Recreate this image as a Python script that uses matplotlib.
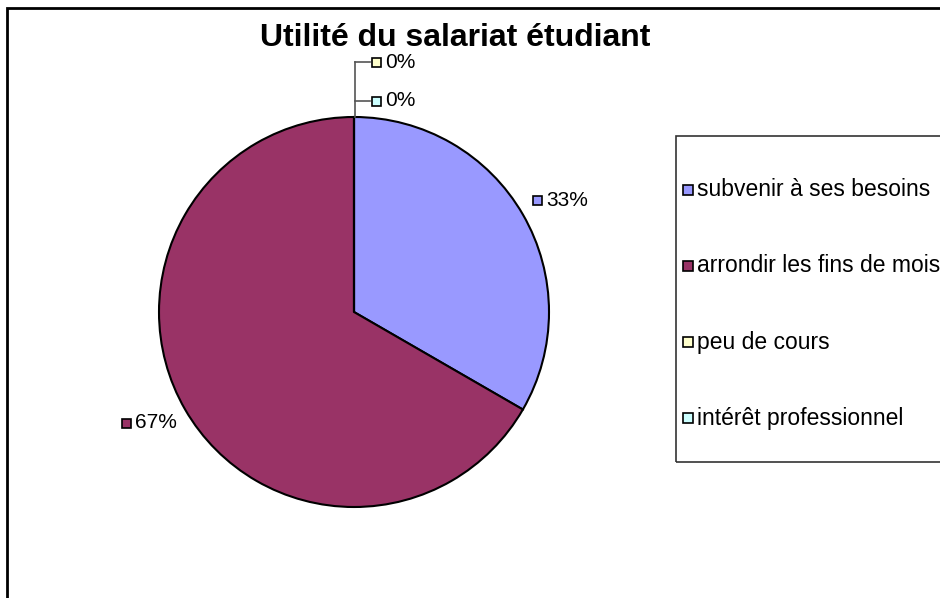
import matplotlib.pyplot as plt
from matplotlib.patches import Rectangle

# data
categories = ["subvenir à ses besoins", "arrondir les fins de mois",
              "peu de cours", "intérêt professionnel"]
values = [1, 2, 0, 0]
colors = ["#9999FF", "#993366", "#FFFFCC", "#CCFFFF"]

total = sum(values)
pct_labels = ["%d%%" % round(100 * v / total) for v in values]

W, H = 940, 598
fig = plt.figure(figsize=(9.4, 5.98), dpi=100)
ax = fig.add_axes([0, 0, 1, 1])

plt.rcParams['font.family'] = ['Liberation Sans', 'DejaVu Sans']

# outer frame (cut off on right and bottom)
ax.add_patch(Rectangle((7, -20), 1000, H - 8 + 20, fill=False,
                       edgecolor="black", linewidth=2))

# pie
cx, cy, r = 354, H - 312, 195
ax.pie(values, colors=colors, startangle=90, counterclock=False,
       center=(cx, cy), radius=r, frame=True,
       wedgeprops=dict(edgecolor="black", linewidth=1.5))
ax.set_xlim(0, W)
ax.set_ylim(0, H)
ax.set_aspect("equal")
ax.axis("off")

ax.text(455, H - 38, "Utilité du salariat étudiant", ha="center",
        va="center", fontsize=23, fontweight="bold")

# data labels
msize = 9
label_pos = [(537, 200), (126, 423), (376, 62), (376, 101)]
for (lx, ly), lab, col in zip(label_pos, pct_labels, colors):
    y = H - ly
    ax.add_patch(Rectangle((lx - msize / 2, y - msize / 2), msize, msize,
                           facecolor=col, edgecolor="black", linewidth=1.2))
    ax.text(lx + 9, y, lab, ha="left", va="center", fontsize=15)

# leader lines for the 0% slices
ax.plot([355, 355], [H - 117, H - 62], color="#555555", lw=1.2)
ax.plot([355, 370], [H - 62, H - 62], color="#555555", lw=1.2)
ax.plot([355, 370], [H - 101, H - 101], color="#555555", lw=1.2)

# legend
ax.add_patch(Rectangle((676, H - 462), 400, 326, fill=False,
                       edgecolor="#333333", linewidth=1.2))
leg_y = [190, 266, 342, 418]
for ly, lab, col in zip(leg_y, categories, colors):
    y = H - ly
    ax.add_patch(Rectangle((683, y - 5), 10, 10, facecolor=col,
                           edgecolor="black", linewidth=1.2))
    ax.text(697, y, lab, ha="left", va="center", fontsize=16.5)

fig.savefig("out.png", dpi=100)
